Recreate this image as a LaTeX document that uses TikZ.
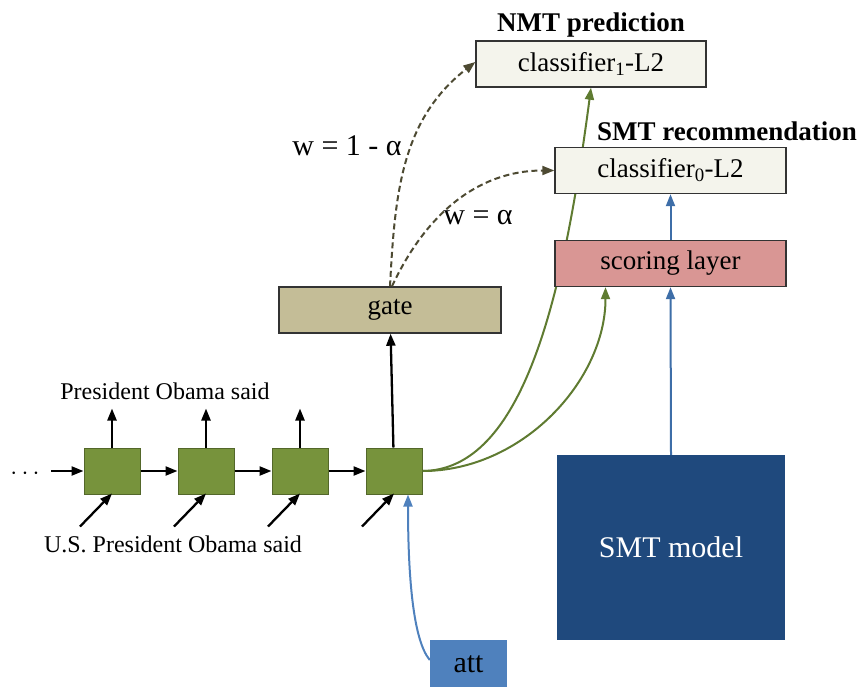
\documentclass[tikz,border=0pt]{standalone}
\usepackage{fontspec}
\setmainfont{Liberation Serif}
\usetikzlibrary{arrows.meta,positioning,backgrounds}

\definecolor{cellgreen}{HTML}{77933C}
\definecolor{gatetan}{HTML}{C4BD97}
\definecolor{scorered}{HTML}{D99694}
\definecolor{clsfill}{HTML}{F4F4EC}
\definecolor{smtblue}{HTML}{1F497D}
\definecolor{attblue}{HTML}{4F81BD}
\definecolor{dashcol}{HTML}{4D4A32}
\definecolor{greencol}{HTML}{5F7B31}
\definecolor{bluecol}{HTML}{3E6EA8}

\newcommand{\fsz}[1]{\fontsize{#1}{#1}\selectfont}

\begin{document}
\begin{tikzpicture}[
    x=1pt, y=-1pt,
    node distance=37pt,
    cell/.style = {shape=rectangle, draw=cellgreen!70!black, fill=cellgreen, line width=1pt, minimum width=56pt, minimum height=46pt},
    layer/.style = {shape=rectangle, draw=black!80, line width=1.4pt, minimum height=46pt, font=\fsz{27}},
    title/.style = {font=\fsz{27}\bfseries},
    words/.style = {font=\fsz{24}},
    weight/.style = {font=\fsz{30}},
    blk/.style = {line width=2.3pt, -{Triangle[length=12pt,width=9pt]}},
    grn/.style = {line width=2pt, draw=greencol, -{Triangle[length=12pt,width=9pt]}},
    blu/.style = {line width=2pt, draw=bluecol, -{Triangle[length=12pt,width=9pt]}},
    gated/.style = {line width=2pt, draw=dashcol, dash pattern=on 6pt off 3.5pt, -{Triangle[length=12pt,width=9pt]}}
  ]
  \useasboundingbox (0,0) rectangle (859,686);

  % recurrent cells
  \node[cell] (c1) at (112,471) {};
  \node[cell, right=of c1] (c2) {};
  \node[cell, right=of c2] (c3) {};
  \node[cell, right=of c3] (c4) {};
  \node[font=\fsz{28}] (dots) at (25,474) {$\cdots$};

  % layers above the decoder
  \node[layer, fill=gatetan, minimum width=222pt] (gate) at (390,310) {gate};
  \node[layer, fill=scorered, minimum width=231pt] (score) at (670.5,263.5) {scoring layer};
  \node[layer, fill=clsfill, minimum width=231pt] (cls0) at (670.5,170.5) {classifier\textsubscript{0}-L2};
  \node[layer, fill=clsfill, minimum width=230pt] (cls1) at (591,64) {classifier\textsubscript{1}-L2};
  \node[title, above=0pt of cls1] (nmt) {NMT prediction};
  \node[title, anchor=south] (smtrec) at (727,144) {SMT recommendation};

  % side inputs
  \node[shape=rectangle, fill=smtblue, text=white, minimum width=228pt, minimum height=185pt, font=\fsz{30}] (smt) at (671,547.5) {SMT model};
  \node[shape=rectangle, fill=attblue, minimum width=77pt, minimum height=48pt, font=\fsz{30}] (att) at (468.5,664) {att};

  % source and target words
  \node[words] (tgt) at (165,391) {President Obama said};
  \node[words] (src) at (173,544) {U.S. President Obama said};

  % recurrent chain
  \draw[blk, shorten <=8pt] (dots.east |- c1.west) -- (c1);
  \draw[blk] (c1) -- (c2);
  \draw[blk] (c2) -- (c3);
  \draw[blk] (c3) -- (c4);
  \foreach \c in {c1,c2,c3}
    \draw[blk] (\c.north) -- ++(0,-39);
  \foreach \c in {c1,c2,c3,c4}
    \draw[blk] ([shift={(-32,32)}]\c.south) -- ([yshift=1pt]\c.south);
  \draw[blk] (c4) -- (gate);

  % attention input
  \draw[line width=2pt, draw=attblue, -{Triangle[length=12pt,width=9pt]}] ([yshift=4pt]att.west) .. controls +(-17,-20) and +(0,80) .. ([xshift=14pt]c4.south);

  % decoder state feeds the classifiers
  \begin{scope}[on background layer]
    \draw[grn] (c4.east) .. controls +(100,-1) and +(-28,213) .. (cls1.south);
  \end{scope}
  \draw[grn] (c4.east) .. controls +(100,0) and +(0,93) .. ([xshift=-65pt]score.south);

  % SMT side
  \draw[blu] (smt.north) -- (score.south);
  \draw[blu] (score.north) -- (cls0.south);

  % gate weights
  \draw[gated] (gate.north) to[out=87, in=218] ([yshift=2pt]cls1.west);
  \draw[gated] ([xshift=2pt]gate.north) to[out=65, in=180] (cls0.west);
  \node[weight] (w1) at (347,146) {w = 1 - α};
  \node[weight] (w0) at (478,218) {w = α};
\end{tikzpicture}
\end{document}
